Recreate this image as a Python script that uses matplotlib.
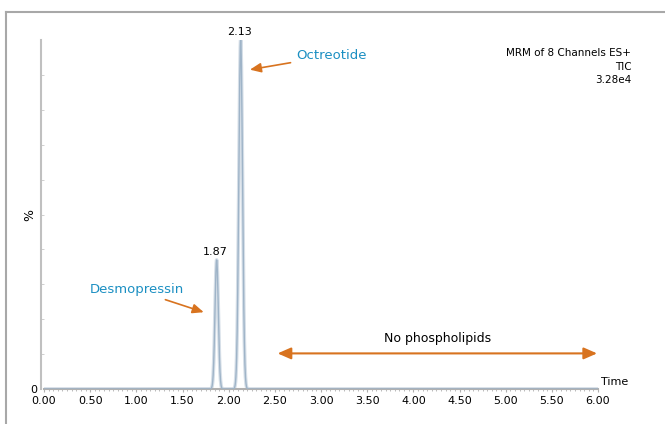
import numpy as np
import matplotlib
matplotlib.use("Agg")
import matplotlib.pyplot as plt
from matplotlib.lines import Line2D

# peak data (retention time, relative intensity %, half-width)
peak_rt = [1.87, 2.13]
peak_height = [37.0, 100.0]
peak_sigma = [0.018, 0.02]
peak_labels = ["1.87", "2.13"]
compounds = ["Desmopressin", "Octreotide"]
x_ticks = [0.0, 0.5, 1.0, 1.5, 2.0, 2.5, 3.0, 3.5, 4.0, 4.5, 5.0, 5.5, 6.0]

t = np.linspace(0, 6, 3001)
trace = np.zeros_like(t)
for rt, h, s in zip(peak_rt, peak_height, peak_sigma):
    trace += h * np.exp(-0.5 * ((t - rt) / s) ** 2)

fig = plt.figure(figsize=(6.65, 4.24), dpi=100)
ax = fig.add_axes([44 / 665, 35 / 424, 554 / 665, 349 / 424])

# outer grey frame
fig.add_artist(Line2D([6 / 665, 6 / 665], [0, 1 - 12 / 424], color="#a8a8a8", lw=1.5))
fig.add_artist(Line2D([6 / 665, 1], [1 - 12 / 424, 1 - 12 / 424], color="#a8a8a8", lw=1.5))

ax.plot(t, trace, color="#d6dfe8", lw=2.6, zorder=2)
ax.plot(t, trace, color="#9fb4c8", lw=1.0, zorder=3)

ax.set_xlim(0, 6)
ax.set_ylim(0, 100)
for s in ["top", "right"]:
    ax.spines[s].set_visible(False)
ax.spines["left"].set_color("#c0c0c0")
ax.spines["left"].set_linewidth(1.5)
ax.spines["left"].set_position(("outward", 2))
ax.spines["bottom"].set_color("#b0b0b0")
ax.spines["bottom"].set_linewidth(1.5)

ax.set_xticks(x_ticks)
ax.set_xticklabels([f"{v:.2f}" for v in x_ticks], fontsize=8)
ax.set_xticks(np.arange(0, 6.01, 0.05), minor=True)
ax.tick_params(axis="x", which="major", length=2, color="#b0b0b0", pad=3)
ax.tick_params(axis="x", which="minor", length=1.5, color="#b0b0b0")
ax.set_yticks([0])
ax.set_yticklabels(["0"], fontsize=8)
ax.set_yticks(np.arange(10, 100, 10), minor=True)
ax.tick_params(axis="y", which="major", length=0, pad=3)
ax.tick_params(axis="y", which="minor", length=2, direction="in", color="#c8c8c8")

ax.text(-0.026, 0.5, "%", transform=ax.transAxes, rotation=90, fontsize=9,
        ha="center", va="center")
ax.text(6.03, 0.5, "Time", fontsize=8, ha="left", va="bottom")

for rt, h, lab in zip(peak_rt, peak_height, peak_labels):
    ax.text(rt - 0.01, h + 0.8, lab, fontsize=8, ha="center", va="bottom")

ax.text(1.06, 0.977, "MRM of 8 Channels ES+\nTIC\n3.28e4", transform=ax.transAxes,
        fontsize=7.5, ha="right", va="top", linespacing=1.45)

orange = "#d8731f"
blue = "#1b8fc2"
ax.annotate(compounds[1], xy=(2.23, 91.5), xytext=(2.73, 95.5), fontsize=9.5,
            color=blue, ha="left", va="center",
            arrowprops=dict(arrowstyle="-|>,head_length=0.7,head_width=0.3",
                            color=orange, lw=1.2, shrinkA=2, shrinkB=0))
ax.annotate(compounds[0], xy=(1.73, 22), xytext=(0.5, 28.5), fontsize=9.5,
            color=blue, ha="left", va="center",
            arrowprops=dict(arrowstyle="-|>,head_length=0.7,head_width=0.3",
                            color=orange, lw=1.2, shrinkA=2, shrinkB=0,
                            relpos=(0.68, 0.0)))
ax.annotate("", xy=(2.53, 10.2), xytext=(5.99, 10.2),
            arrowprops=dict(arrowstyle="<|-|>,head_length=0.8,head_width=0.35",
                            color=orange, lw=1.5, shrinkA=0, shrinkB=0))
ax.text(4.26, 12.5, "No phospholipids", fontsize=9, ha="center", va="bottom")

fig.savefig("out.png", dpi=100)
